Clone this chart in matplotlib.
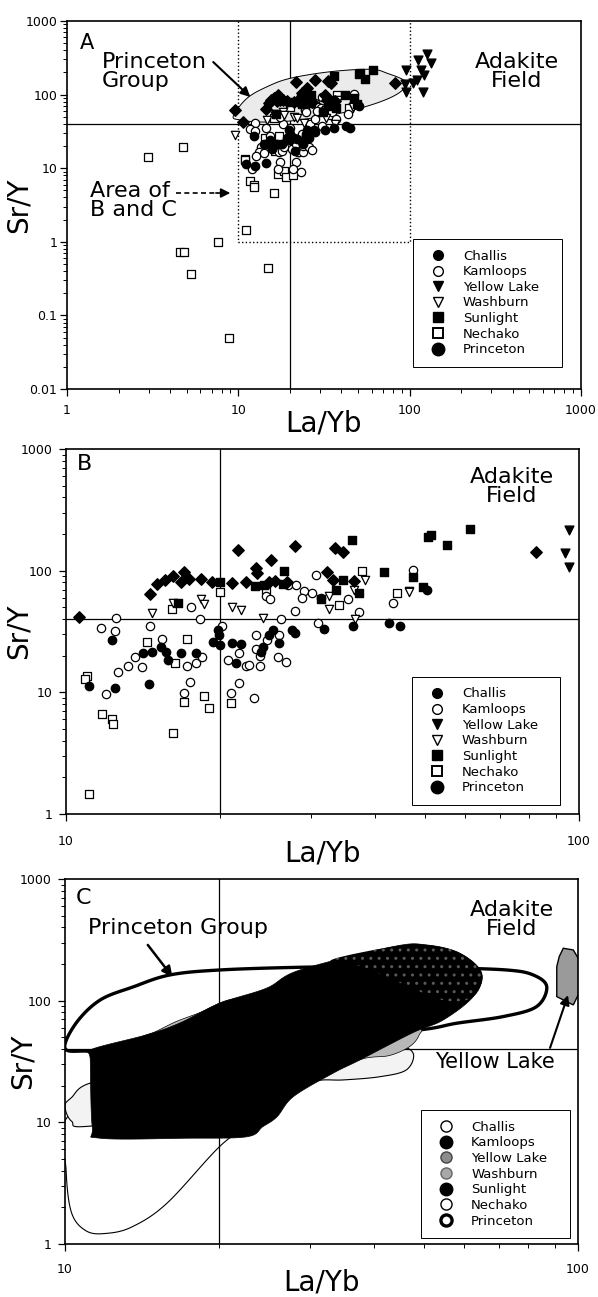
import numpy as np
import matplotlib
matplotlib.use('Agg')
import matplotlib.pyplot as plt
from matplotlib.lines import Line2D
from matplotlib.ticker import FixedLocator, FixedFormatter, LogLocator, NullFormatter

plt.rcParams['font.family'] = ['DejaVu Sans']

challis_x = [11.07, 12.29, 12.47, 14.49, 14.15, 14.7, 15.3, 15.65, 15.79, 16.75, 17.9, 19.75, 19.9,
             19.3, 19.98, 21.1, 21.9, 21.45, 25.3, 24.9, 24.2, 24.0, 26.0, 27.6, 28.0, 31.9, 36.2,
             42.6, 44.8, 50.5]
challis_y = [11.3, 27.0, 10.8, 11.7, 21.0, 21.3, 23.8, 21.6, 18.5, 21.0, 21.0, 32.7, 29.6,
             26.1, 24.5, 25.6, 25.0, 17.3, 32.7, 29.6, 23.8, 21.6, 25.6, 32.7, 30.7, 33.2, 35.1,
             37.0, 35.1, 69.0]

kamloops_x = [12.5, 11.7, 12.47, 14.58, 18.25, 15.4, 13.6, 13.2, 12.65, 14.06, 11.97, 17.45, 17.0,
              17.2, 17.9, 18.4, 17.5, 20.1, 20.7, 21.7, 21.7, 20.97, 22.4, 22.7, 23.3, 23.9, 23.9,
              23.5, 23.5, 24.7, 26.0, 25.9, 26.9, 26.2, 28.0, 30.7, 27.1, 28.1, 29.1, 30.2, 28.9,
              31.4, 24.5, 25.0, 35.4, 31.0, 37.3, 43.4, 47.4]
kamloops_y = [40.6, 33.6, 32.1, 35.1, 39.9, 27.3, 19.4, 16.5, 14.8, 16.2, 9.7, 12.2, 9.8,
              16.5, 17.3, 19.7, 50.0, 35.1, 18.5, 21.0, 12.0, 9.8, 16.5, 16.8, 8.9, 16.5, 19.9,
              22.6, 29.6, 27.0, 29.6, 19.4, 17.9, 39.9, 46.9, 92.3, 76.3, 76.3, 68.3, 66.0, 59.2,
              60.0, 62.0, 58.2, 58.2, 37.4, 46.0, 54.6, 101.4]

yellow_x = [95.7, 94.0, 95.4, 125.7, 111.8, 133.9, 115.9, 110.9, 120.0, 105.0, 122.0]
yellow_y = [216, 139, 108, 352, 295, 271, 216, 158, 109.6, 142, 184]

washburn_x = [14.71, 16.19, 18.33, 18.6, 21.1, 21.9, 24.2, 32.5, 32.6, 36.5, 38.3, 46.7, 36.6, 46.6, 9.6]
washburn_y = [44.7, 54.6, 58.2, 53.2, 50.0, 47.6, 40.6, 48.1, 62.0, 69.4, 83.9, 68.3, 39.9, 67.2, 28.3]

sunlight_x = [16.5, 20.0, 23.4, 24.3, 26.5, 26.6, 31.4, 33.6, 34.7, 37.3, 36.1, 41.7, 47.4, 49.6,
              50.7, 51.5, 55.2, 61.3]
sunlight_y = [54.6, 80.0, 74.9, 76.0, 78.0, 100.0, 58.2, 69.4, 83.9, 66.0, 178.7, 98.2, 89.3, 74.0,
              190.3, 195.0, 162.6, 218.8]

nechako_x = [10.97, 10.9, 11.75, 12.29, 12.35, 14.4, 16.3, 17.2, 17.0, 18.6, 19.0, 20.97, 16.19, 20.0,
             16.07, 11.1, 37.8, 34.0, 44.2, 24.5, 2.99, 4.75, 4.58, 4.83, 5.29, 7.6, 15.0, 8.78]
nechako_y = [13.5, 12.9, 6.6, 6.0, 5.5, 26.1, 17.3, 27.3, 8.4, 9.3, 7.5, 8.1, 4.6, 67.2,
             48.1, 1.45, 100.0, 52.3, 65.0, 69.4, 14.3, 19.2, 0.734, 0.72, 0.362, 0.985, 0.436, 0.05]

princeton_x = [10.59, 14.58, 15.03, 15.62, 16.14, 17.0, 16.75, 17.4, 18.33, 19.26, 21.1, 21.6, 22.4,
               23.5, 23.6, 25.1, 27.9, 33.4, 34.7, 32.2, 33.1, 36.5, 24.9, 25.5, 27.0, 82.5, 9.6]
princeton_y = [41.9, 64.4, 77.3, 83.9, 90.5, 98.2, 81.2, 85.0, 85.0, 80.8, 79.6, 148, 81.2,
               104.6, 95.0, 122.4, 159.6, 152.8, 143, 98.2, 83.9, 82.0, 81.2, 82.0, 80.0, 141.6, 62.0]

# Princeton Group envelope in panel A
env_a_x = [9.35, 11.24, 14.72, 20.1, 34.5, 59.1, 74.1, 94.8, 88.6, 67.7, 43.2, 30.2, 20.1, 13.45, 10.27]
env_a_y = [51.2, 89.1, 128, 166.5, 204.7, 220.7, 194.6, 149.7, 109.5, 80.1, 58.6, 50.1, 43.8, 42.4, 45.2]

# ---- compositional fields of panel C ----
nechako_fx = [10.1, 10.05, 10.3, 11.0, 12.0, 13.5, 15.8, 20.0, 23.0, 29.0, 34.0, 30.0, 20.0, 13.0]
nechako_fy = [11.0, 4.0, 1.8, 1.28, 1.22, 1.38, 2.16, 6.3, 9.8, 22.0, 40.0, 60.0, 35.0, 16.0]
challis_fx = [10.0, 10.3, 11.2, 15.0, 25.0, 35.0, 44.0, 47.7, 46.3, 41.1, 34.9, 31.0, 27.0, 20.0,
              11.2, 10.3]
challis_fy = [13.6, 16.0, 21.0, 26.0, 32.0, 36.0, 42.0, 37.0, 27.0, 23.7, 22.3, 22.0, 18.5, 13.0,
              9.3, 10.2]
washburn_fx = [14.0, 15.0, 16.5, 18.5, 21.0, 26.0, 40.0, 48.7, 49.0, 47.0, 43.0, 39.0, 33.0, 20.0, 14.0]
washburn_fy = [49.0, 55.5, 67.5, 81.0, 102.0, 110.0, 90.0, 62.0, 52.0, 42.0, 35.5, 34.0, 30.0, 30.0, 40.0]
kamloops_fx = [11.2, 14.4, 16.7, 20.0, 24.7, 28.7, 43.6, 50.7, 58.9, 64.9, 62.5, 54.6, 47.6, 37.6,
               33.3, 27.9, 25.9, 24.3, 22.6, 17.3, 11.7, 11.3, 11.2]
kamloops_fy = [39.4, 52.3, 65.2, 95.0, 126.6, 178.6, 278, 287, 245, 168, 108, 69.3, 54.4, 32.6,
               25.3, 16.3, 11.1, 9.2, 7.6, 7.4, 7.4, 9.2, 32.6]
sunlight_fx = [33.0, 43.6, 50.7, 58.9, 64.9, 62.5, 55.0, 45.0, 38.0]
sunlight_fy = [215, 278, 287, 245, 168, 108, 100, 140, 190]
yellow_fx = [93.6, 97.9, 100.5, 100.5, 97.9, 90.9, 90.9, 91.9]
yellow_fy = [269.6, 261, 216, 115.7, 92.2, 107.9, 190.3, 229.9]
princeton_fx = [10.0, 10.5, 11.7, 13.6, 16.0, 20.0, 28.7, 40.0, 55.0, 72.6, 81.8, 86.9, 83.0, 71.5,
                58.0, 50.0, 35.0, 20.0, 13.0, 11.0]
princeton_fy = [40.6, 65.0, 101, 130, 162.5, 178.6, 188, 190, 186, 178.6, 162.5, 130, 89.3, 74.0,
                65.2, 58.0, 50.0, 44.0, 39.0, 38.5]

labels = ['Challis', 'Kamloops', 'Yellow Lake', 'Washburn', 'Sunlight', 'Nechako', 'Princeton']
limit_sr_y = 40
limit_la_yb = 20


def smooth_closed(xs, ys, n=20):
    # closed Catmull-Rom curve through the vertices, in log space
    pts = np.column_stack([np.log10(xs), np.log10(ys)])
    m = len(pts)
    t = np.linspace(0, 1, n, endpoint=False)[:, None]
    segs = []
    for i in range(m):
        p0, p1, p2, p3 = pts[i - 1], pts[i], pts[(i + 1) % m], pts[(i + 2) % m]
        segs.append(0.5 * (2 * p1 + (p2 - p0) * t + (2 * p0 - 5 * p1 + 4 * p2 - p3) * t ** 2
                           + (3 * p1 - p0 - 3 * p2 + p3) * t ** 3))
    s = np.vstack(segs)
    return 10 ** s[:, 0], 10 ** s[:, 1]


def log_axes(ax, xt, xl, yt, yl, xpad, ypad):
    ax.set_xscale('log')
    ax.set_yscale('log')
    ax.set_xlim(xt[0], xt[-1])
    ax.set_ylim(yt[0], yt[-1])
    ax.xaxis.set_major_locator(FixedLocator(xt))
    ax.xaxis.set_major_formatter(FixedFormatter(xl))
    ax.yaxis.set_major_locator(FixedLocator(yt))
    ax.yaxis.set_major_formatter(FixedFormatter(yl))
    for a in (ax.xaxis, ax.yaxis):
        a.set_minor_locator(LogLocator(base=10, subs=np.arange(2, 10), numticks=30))
        a.set_minor_formatter(NullFormatter())
    ax.tick_params(which='major', direction='out', length=5, width=0.9, labelsize=9)
    ax.tick_params(which='minor', direction='out', length=3, width=0.7)
    ax.tick_params(axis='x', pad=xpad)
    ax.tick_params(axis='y', pad=ypad)
    for s in ax.spines.values():
        s.set_linewidth(1.2)
    ax.axhline(limit_sr_y, color='black', lw=0.9, zorder=1.5)
    ax.axvline(limit_la_yb, color='black', lw=0.9, zorder=1.5)
    ax.set_xlabel('La/Yb', fontsize=20)
    ax.set_ylabel('Sr/Y', fontsize=20)


def draw_points(ax):
    ax.scatter(nechako_x, nechako_y, s=30, marker='s', facecolor='white', edgecolor='black', lw=0.9, zorder=3)
    ax.scatter(kamloops_x, kamloops_y, s=36, marker='o', facecolor='white', edgecolor='black', lw=0.9, zorder=3)
    ax.scatter(washburn_x, washburn_y, s=36, marker='v', facecolor='white', edgecolor='black', lw=0.9, zorder=3)
    ax.scatter(challis_x, challis_y, s=36, marker='o', color='black', zorder=3)
    ax.scatter(sunlight_x, sunlight_y, s=30, marker='s', color='black', zorder=3)
    ax.scatter(princeton_x, princeton_y, s=34, marker='D', color='black', zorder=3)
    ax.scatter(yellow_x, yellow_y, s=40, marker='v', color='black', zorder=3)


def point_legend(ax, bbox):
    h = [Line2D([], [], ls='none', marker='o', ms=7, color='black'),
         Line2D([], [], ls='none', marker='o', ms=7, mfc='white', mec='black', mew=1.0),
         Line2D([], [], ls='none', marker='v', ms=7, color='black'),
         Line2D([], [], ls='none', marker='v', ms=7, mfc='white', mec='black', mew=1.0),
         Line2D([], [], ls='none', marker='s', ms=6.5, color='black'),
         Line2D([], [], ls='none', marker='s', ms=6.5, mfc='white', mec='black', mew=1.4),
         Line2D([], [], ls='none', marker='o', ms=9, color='black')]
    leg = ax.legend(h, labels, loc='lower left', bbox_to_anchor=bbox, mode='expand', fontsize=9.5,
                    labelspacing=0.2, borderpad=0.8, handlelength=2.2, handletextpad=0.8,
                    borderaxespad=0, fancybox=False, framealpha=1)
    leg.get_frame().set_edgecolor('black')
    leg.get_frame().set_linewidth(0.7)
    leg.set_zorder(6)


fig = plt.figure(figsize=(5.98, 12.97), dpi=100)

# ---------------- panel A ----------------
ax = fig.add_axes([0.112, 0.7001, 0.8595, 0.2837])
log_axes(ax, [1, 10, 100, 1000], ['1', '10', '100', '1000'],
         [0.01, 0.1, 1, 10, 100, 1000], ['0.01', '0.1', '1', '10', '100', '1000'], 6, 2)
ex, ey = smooth_closed(env_a_x, env_a_y)
ax.fill(ex, ey, facecolor='#ebebeb', edgecolor='black', lw=0.7, zorder=2)
ax.plot([10, 10, 100, 100], [1000, 1, 1, 1000], color='black', ls=':', lw=1.0, zorder=1.5)
draw_points(ax)
point_legend(ax, (0.673, 0.06, 0.29, 0.372))
ax.text(0.025, 0.968, 'A', transform=ax.transAxes, fontsize=15, va='top', ha='left')
ax.text(0.068, 0.915, 'Princeton\nGroup', transform=ax.transAxes, fontsize=16, va='top', ha='left',
        linespacing=0.95)
ax.text(0.875, 0.915, 'Adakite\nField', transform=ax.transAxes, fontsize=16, va='top', ha='center',
        linespacing=0.95)
ax.text(0.045, 0.565, 'Area of\nB and C', transform=ax.transAxes, fontsize=16, va='top', ha='left',
        linespacing=0.95)
ax.annotate('', xy=(11.75, 92.8), xytext=(7.14, 277),
            arrowprops=dict(arrowstyle='-|>', color='black', lw=1.5, mutation_scale=14, shrinkA=0, shrinkB=0))
ax.plot([4.3, 7.6], [4.6, 4.6], color='black', ls=(0, (3, 2)), lw=1.2)
ax.annotate('', xy=(8.98, 4.6), xytext=(7.4, 4.6),
            arrowprops=dict(arrowstyle='-|>', color='black', lw=1.2, mutation_scale=14, shrinkA=0, shrinkB=0))
ax.xaxis.set_label_coords(0.5, -0.057)
ax.yaxis.set_label_coords(-0.066, 0.5)

# ---------------- panel B ----------------
ax = fig.add_axes([0.1104, 0.3724, 0.8579, 0.2814])
log_axes(ax, [10, 100], ['10', '100'], [1, 10, 100, 1000], ['1', '10', '100', '1000'], 10, 5)
draw_points(ax)
point_legend(ax, (0.674, 0.025, 0.2885, 0.391))
ax.text(0.021, 0.985, 'B', transform=ax.transAxes, fontsize=16, va='top', ha='left')
ax.text(0.869, 0.951, 'Adakite\nField', transform=ax.transAxes, fontsize=16, va='top', ha='center',
        linespacing=0.95)
ax.xaxis.set_label_coords(0.5, -0.071)
ax.yaxis.set_label_coords(-0.066, 0.5)

# ---------------- panel C ----------------
ax = fig.add_axes([0.1087, 0.0409, 0.8579, 0.2814])
log_axes(ax, [10, 100], ['10', '100'], [1, 10, 100, 1000], ['1', '10', '100', '1000'], 9, 5)
fx, fy = smooth_closed(nechako_fx, nechako_fy)
ax.fill(fx, fy, facecolor='white', edgecolor='black', lw=0.8, zorder=1)
fx, fy = smooth_closed(challis_fx, challis_fy)
ax.fill(fx, fy, facecolor='#f3f3f3', edgecolor='black', lw=0.8, zorder=1.2)
fx, fy = smooth_closed(princeton_fx, princeton_fy)
ax.fill(fx, fy, facecolor='none', edgecolor='black', lw=2.4, zorder=1.8)
fx, fy = smooth_closed(washburn_fx, washburn_fy)
ax.fill(fx, fy, facecolor='#b8b8b8', edgecolor='black', lw=0.5, zorder=2)
ax.fill(yellow_fx, yellow_fy, facecolor='#9a9a9a', edgecolor='black', lw=1.0, zorder=2)
fx, fy = smooth_closed(kamloops_fx, kamloops_fy)
ax.fill(fx, fy, facecolor='black', edgecolor='black', lw=0.5, zorder=3)
fx, fy = smooth_closed(sunlight_fx, sunlight_fy)
ax.fill(fx, fy, facecolor='black', edgecolor='#5a5a5a', hatch='..', lw=0, zorder=3.2)

hc = [Line2D([], [], ls='none', marker='o', ms=8, mfc='white', mec='black', mew=1.0),
      Line2D([], [], ls='none', marker='o', ms=9, color='black'),
      Line2D([], [], ls='none', marker='o', ms=8, mfc='#8c8c8c', mec='#444444', mew=1.0),
      Line2D([], [], ls='none', marker='o', ms=8, mfc='#a8a8a8', mec='#666666', mew=1.0),
      Line2D([], [], ls='none', marker='o', ms=9, color='black'),
      Line2D([], [], ls='none', marker='o', ms=8, mfc='white', mec='black', mew=1.0),
      Line2D([], [], ls='none', marker='o', ms=8, mfc='white', mec='black', mew=2.4)]
leg = ax.legend(hc, labels, loc='lower left', bbox_to_anchor=(0.694, 0.016, 0.29, 0.398), mode='expand',
                fontsize=9.5, labelspacing=0.2, borderpad=0.8, handlelength=2.2, handletextpad=0.8,
                borderaxespad=0, fancybox=False, framealpha=1)
leg.get_frame().set_edgecolor('black')
leg.get_frame().set_linewidth(0.7)
leg.set_zorder(6)
ax.text(0.021, 0.975, 'C', transform=ax.transAxes, fontsize=16, va='top', ha='left')
ax.text(0.045, 0.893, 'Princeton Group', transform=ax.transAxes, fontsize=16, va='top', ha='left')
ax.text(0.871, 0.942, 'Adakite\nField', transform=ax.transAxes, fontsize=16, va='top', ha='center',
        linespacing=0.95)
ax.text(0.838, 0.526, 'Yellow Lake', transform=ax.transAxes, fontsize=15, va='top', ha='center')
ax.annotate('', xy=(16.2, 156.6), xytext=(14.5, 287),
            arrowprops=dict(arrowstyle='-|>', color='black', lw=1.8, mutation_scale=15, shrinkA=0, shrinkB=0))
ax.annotate('', xy=(95.6, 111), xytext=(88.2, 40.9),
            arrowprops=dict(arrowstyle='-|>', color='black', lw=1.5, mutation_scale=14, shrinkA=0, shrinkB=0))
ax.xaxis.set_label_coords(0.5, -0.066)
ax.yaxis.set_label_coords(-0.055, 0.5)

fig.savefig('out.png', dpi=100, facecolor='white')
